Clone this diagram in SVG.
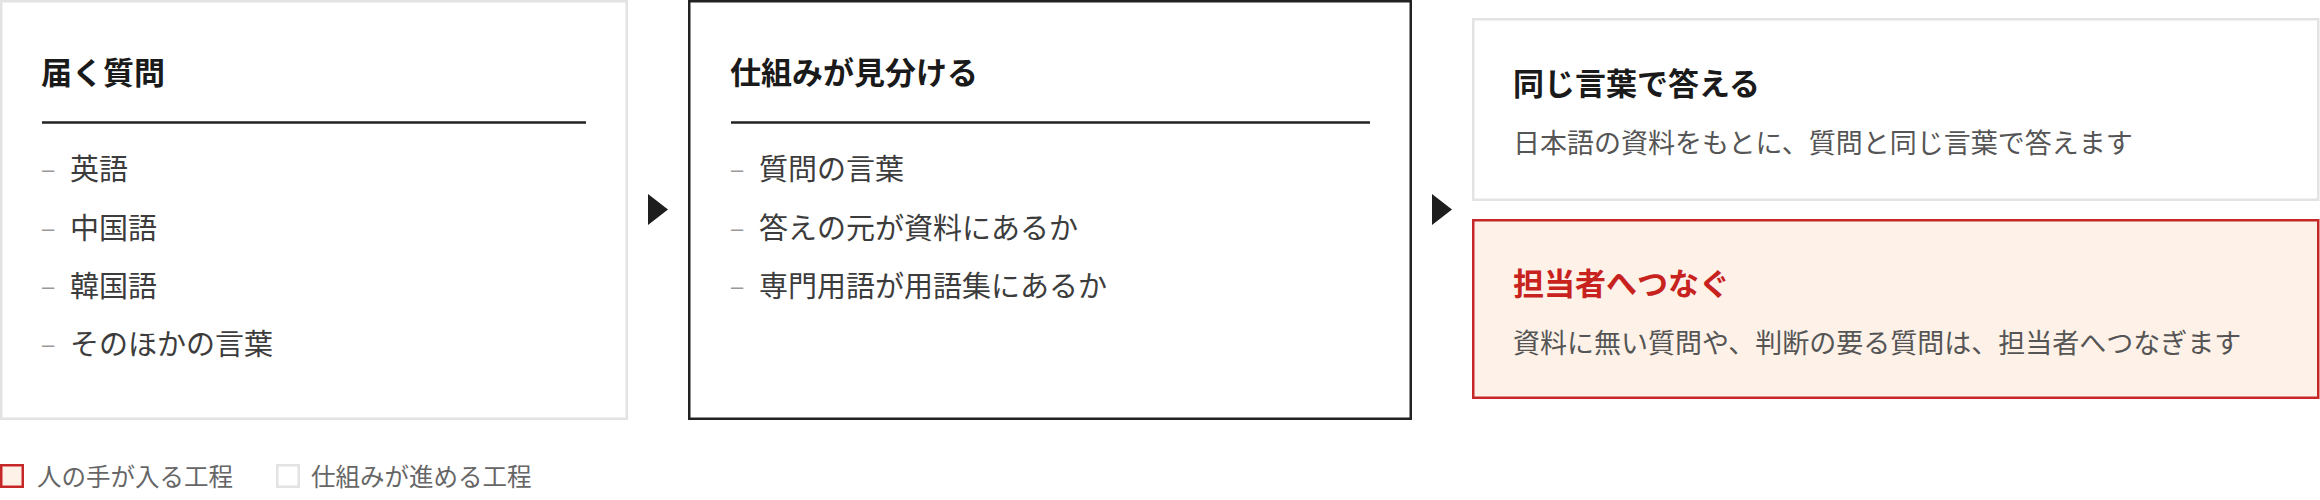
<svg xmlns="http://www.w3.org/2000/svg" width="2320" height="500" viewBox="0 0 2320 500">
<style>
text{font-family:"Noto Sans CJK JP","Noto Sans",sans-serif}
.title{font-size:31px;font-weight:700;fill:#1a1a1a}
.item{font-size:29px;fill:#3c3c3c}
.dash{font-family:"Liberation Sans",sans-serif;font-size:22px;fill:#999}
.desc{font-size:27px;fill:#555}
.legend{font-size:24.5px;fill:#666}
.light{fill:#fff;stroke:#e3e3e3;stroke-width:2.5}
.dark{fill:#fff;stroke:#222;stroke-width:2.5}
.human{fill:#fdf1e8;stroke:#c62828;stroke-width:2.5}
.rule{stroke:#222;stroke-width:2.5}
.arrow{fill:#1e1e1e}
</style>
<rect width="2320" height="500" fill="#fff"/>
<g id="node-incoming">
<rect class="light" x="1.25" y="1.25" width="625.5" height="417.5"/>
<text class="title" x="41" y="84">届く質問</text>
<line class="rule" x1="42" y1="122.5" x2="586" y2="122.5"/>
<text class="dash" x="42" y="177">–</text><text class="item" x="70" y="180">英語</text>
<text class="dash" x="42" y="235.5">–</text><text class="item" x="70" y="238.5">中国語</text>
<text class="dash" x="42" y="294">–</text><text class="item" x="70" y="297">韓国語</text>
<text class="dash" x="42" y="352">–</text><text class="item" x="70" y="355">そのほかの言葉</text>
</g>
<g id="node-system">
<rect class="dark" x="689.25" y="1.25" width="721.5" height="417.5"/>
<text class="title" x="730" y="84">仕組みが見分ける</text>
<line class="rule" x1="731" y1="122.5" x2="1370" y2="122.5"/>
<text class="dash" x="731" y="177">–</text><text class="item" x="759" y="180">質問の言葉</text>
<text class="dash" x="731" y="235.5">–</text><text class="item" x="759" y="238.5">答えの元が資料にあるか</text>
<text class="dash" x="731" y="294">–</text><text class="item" x="759" y="297">専門用語が用語集にあるか</text>
</g>
<g id="node-answer">
<rect class="light" x="1473.25" y="19.25" width="845" height="180.5"/>
<text class="title" x="1513" y="95">同じ言葉で答える</text>
<text class="desc" x="1513" y="153">日本語の資料をもとに、質問と同じ言葉で答えます</text>
</g>
<g id="node-handoff">
<rect class="human" x="1473.25" y="220.25" width="845" height="177.5"/>
<text class="title" x="1513" y="295" fill="#c62828" style="fill:#c8221f">担当者へつなぐ</text>
<text class="desc" x="1513" y="353">資料に無い質問や、判断の要る質問は、担当者へつなぎます</text>
</g>
<g id="connectors">
<polygon class="arrow" points="648,194 668,209.5 648,225"/>
<polygon class="arrow" points="1432,194 1452,209.5 1432,225"/>
</g>
<g id="legend">
<rect class="human" x="1.25" y="465.25" width="21.5" height="21.5"/>
<text class="legend" x="37" y="486">人の手が入る工程</text>
<rect class="light" x="277.25" y="465.25" width="21.5" height="21.5"/>
<text class="legend" x="311" y="486">仕組みが進める工程</text>
</g>
</svg>
